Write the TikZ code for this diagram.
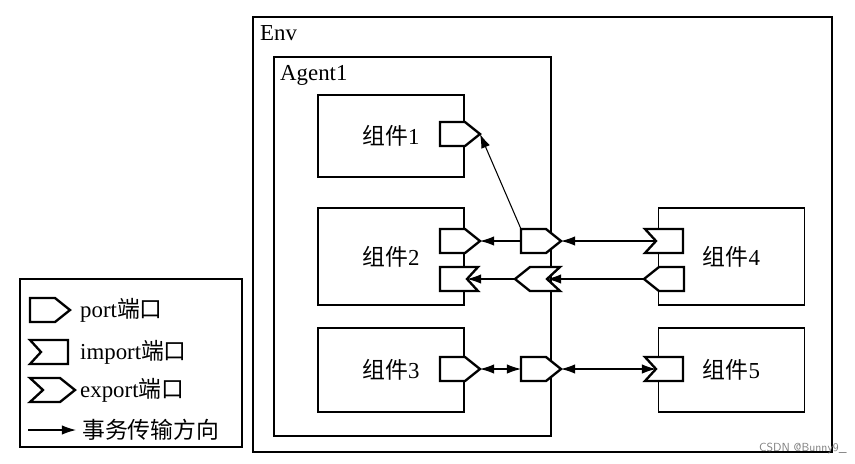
\documentclass[tikz,border=0pt]{standalone}
\usepackage{fontspec}
\usetikzlibrary{arrows.meta}
\setmainfont{Liberation Serif}
\newfontfamily\cjk{Noto Sans CJK SC}
\begin{document}
\begin{tikzpicture}[x=0.03cm,y=-0.03cm,
 box/.style={draw,line width=1.3pt},
 comp/.style={draw,line width=1.3pt,minimum width=146*0.03cm,inner sep=0pt,font=\fontsize{19.5}{19.5}\selectfont},
 sh/.style={draw,line width=2pt,fill=white,line join=miter},
 tip/.tip={Latex[length=12pt,width=8pt]},
 con/.style={line width=0.9pt,-tip},
 con2/.style={line width=0.9pt,tip-tip},
 pics/port/.style={code={\draw[sh] (0,-12)--(25,-12)--(40,0)--(25,12)--(0,12)--cycle;
   \coordinate (-base) at (0,0); \coordinate (-tip) at (40,0); \coordinate (-top) at (0,-12);}},
 pics/import/.style={code={\draw[sh] (0,-12)--(38,-12)--(38,12)--(0,12)--(11,0)--cycle;
   \coordinate (-notch) at (11,0); \coordinate (-back) at (38,0);}},
 pics/export/.style={code={\draw[sh] (0,-12)--(30,-12)--(45,0)--(30,12)--(0,12)--(13,0)--cycle;
   \coordinate (-notch) at (13,0); \coordinate (-tip) at (45,0);}},
 lbl/.style={font=\fontsize{19.5}{19.5}\selectfont,inner sep=0pt,anchor=west}
]
\useasboundingbox (0,0) rectangle (855,463);
% Env and Agent
\draw[box] (253,17) rectangle (832,452);
\node[lbl] (env) at (260,33) {Env};
\draw[box] (274,57) rectangle (551,436);
\node[lbl] (ag) at (280,75) {Agent1};
% components
\node[comp,minimum height=82*0.03cm] (c1) at (391,136) {{\cjk 组件}1};
\node[comp,minimum height=97*0.03cm] (c2) at (391,256.5) {{\cjk 组件}2};
\node[comp,minimum height=84*0.03cm] (c3) at (391,370) {{\cjk 组件}3};
\node[comp,minimum height=97*0.03cm] (c4) at (731.5,256.5) {{\cjk 组件}4};
\node[comp,minimum height=84*0.03cm] (c5) at (731.5,370) {{\cjk 组件}5};
% ports
\pic (p1) at (440,134) {port};
\pic (p2a) at (440,241) {port};
\pic[xscale=-1] (p2b) at (478,279) {import};
\pic (p3) at (440,369) {port};
\pic (ma) at (521,241) {port};
\pic[xscale=-1] (mb) at (560,279) {export};
\pic (mc) at (521,369) {port};
\pic (p4a) at (645,241) {import};
\pic[xscale=-1] (p4b) at (684,279) {port};
\pic (p5) at (645,369) {import};
% connectors
\draw[con] (ma-top) -- (p1-tip);
\draw[con] (ma-base) -- (p2a-tip);
\draw[con] (p4a-notch) -- (ma-tip);
\draw[con] (p4b-tip) -- (mb-notch);
\draw[con] (mb-tip) -- (p2b-notch);
\draw[con2] (p3-tip) -- (mc-base);
\draw[con2] (mc-tip) -- (p5-notch);
% legend
\draw[box] (20,279) rectangle (242,447);
\pic (l1) at (30,310) {port};
\node[lbl] (t1) at (80,310) {port{\cjk 端口}};
\pic (l2) at (30,352) {import};
\node[lbl] (t2) at (80,352) {import{\cjk 端口}};
\pic (l3) at (30,390) {export};
\node[lbl] (t3) at (80,390) {export{\cjk 端口}};
\coordinate (la) at (28,430);
\coordinate (lb) at (76,430);
\draw[con] (la) -- (lb);
\node[lbl] (t4) at (82,430) {\cjk 事务传输方向};
\node[anchor=south east,inner sep=1pt,text=gray,font=\fontsize{10}{10}\selectfont\sffamily] (wm) at (848,455) {CSDN @Bunny9\_};
\end{tikzpicture}
\end{document}
